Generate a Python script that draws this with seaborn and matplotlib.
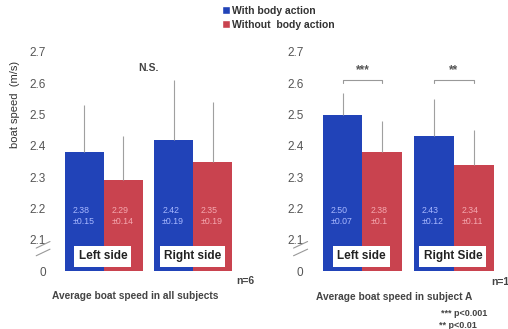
import matplotlib
matplotlib.use("Agg")
import matplotlib.pyplot as plt
from matplotlib.patches import Patch
import seaborn as sns
import pandas as pd

sns.set_theme(style="white")
plt.rcParams['font.family'] = ['Liberation Sans', 'DejaVu Sans']

sides_all = ["Left side", "Right side"]
sides_a = ["Left side", "Right Side"]
conditions = ["With body action", "Without  body action"]
means_all = {"With body action": [2.38, 2.42], "Without  body action": [2.29, 2.35]}
sds_all = {"With body action": [0.15, 0.19], "Without  body action": [0.14, 0.19]}
means_a = {"With body action": [2.50, 2.43], "Without  body action": [2.38, 2.34]}
sds_a = {"With body action": [0.07, 0.12], "Without  body action": [0.1, 0.11]}
sds_a_text = {"With body action": ["±0.07", "±0.12"], "Without  body action": ["±0.1", "±0.11"]}
sds_all_text = {"With body action": ["±0.15", "±0.19"], "Without  body action": ["±0.14", "±0.19"]}
yticks = [2.0, 2.1, 2.2, 2.3, 2.4, 2.5, 2.6, 2.7]
yticklabels = ["0", "2.1", "2.2", "2.3", "2.4", "2.5", "2.6", "2.7"]
colors = ["#2143b8", "#c9434f"]
txt_colors = ["#a8b8ff", "#f4a8b0"]

W, H = 508, 329
fig = plt.figure(figsize=(W / 100, H / 100), dpi=100)
ax1 = fig.add_axes([50 / W, 0.176, 197 / W, 0.666])
ax2 = fig.add_axes([307.6 / W, 0.176, 201 / W, 0.666])


def make_df(sides, means):
    rows = []
    for c in conditions:
        for s, v in zip(sides, means[c]):
            rows.append({"side": s, "cond": c, "speed": v})
    return pd.DataFrame(rows)


def draw(ax, sides, means, sds, sdtext):
    df = make_df(sides, means)
    sns.barplot(data=df, x="side", y="speed", hue="cond", order=sides,
                hue_order=conditions, palette=colors, width=0.87,
                errorbar=None, legend=False, ax=ax, linewidth=0, saturation=1)
    bars = [p for p in ax.patches][:4]
    k = 0
    for ci, c in enumerate(conditions):
        for si in range(len(sides)):
            p = bars[k]
            k += 1
            xc = p.get_x() + p.get_width() / 2
            top = means[c][si]
            ax.plot([xc, xc], [top, top + sds[c][si]], color="#a0a0a0", lw=0.8,
                    solid_capstyle="butt", zorder=1)
            ax.text(p.get_x() + p.get_width() * 0.2, 2.176, f"{top:.2f}\n{sdtext[c][si]}",
                    fontsize=6.3, color=txt_colors[ci], ha="left", va="center",
                    linespacing=1.25)
    for si, s in enumerate(sides):
        ax.text(si - 0.01, 2.047, s, ha="center", va="center", fontsize=8.5,
                fontweight="bold", color="#222222",
                bbox=dict(boxstyle="square,pad=0.35", fc="white", ec="none"))
    ax.set_ylim(2.0, 2.7)
    ax.set_xlim(-0.6, 1.6)
    ax.set_yticks(yticks)
    ax.set_yticklabels(yticklabels)
    ax.tick_params(axis="y", length=0, pad=3, labelsize=8.5, labelcolor="#555555")
    ax.set_xticks([])
    ax.set_xlabel("")
    ax.set_ylabel("")
    for sp in ax.spines.values():
        sp.set_visible(False)
    # axis break marks
    for dy in (0.0, 0.035):
        ax.plot([-0.07, 0.0], [0.07 + dy, 0.1 + dy], transform=ax.transAxes,
                color="#999999", lw=0.8, clip_on=False)


draw(ax1, sides_all, means_all, sds_all, sds_all_text)
draw(ax2, sides_a, means_a, sds_a, sds_a_text)

# significance
ax1.text(0.5, 2.648, "N.S.", ha="center", va="center", fontsize=7.5,
         fontweight="bold", color="#444444")
for si, star in enumerate(["***", "**"]):
    x0, x1 = si - 0.2175, si + 0.2175
    y = 2.61
    ax2.plot([x0, x0, x1, x1], [y - 0.01, y, y, y - 0.01], color="#999999", lw=0.8)
    ax2.text(si, 2.642, star, ha="center", va="center", fontsize=8.5,
             fontweight="bold", color="#555555")

# legend
handles = [Patch(facecolor=colors[0]), Patch(facecolor=colors[1])]
leg = fig.legend(handles, ["With body action", "Without  body action"],
                 loc="upper left", bbox_to_anchor=(222 / W, 1 - 6 / H),
                 frameon=False, fontsize=7.5, handlelength=0.8, handleheight=0.8,
                 handletextpad=0.2, labelspacing=0.35, borderpad=0, borderaxespad=0)
for t in leg.get_texts():
    t.set_fontweight("bold")
    t.set_color("#333333")

fig.text(15 / W, 1 - 104 / H, "boat speed  (m/s)", rotation=90, ha="center",
         va="center", fontsize=8, color="#333333")
fig.text(135 / W, 1 - 296 / H, "Average boat speed in all subjects", ha="center",
         va="center", fontsize=7.3, fontweight="bold", color="#444444")
fig.text(394 / W, 1 - 297 / H, "Average boat speed in subject A", ha="center",
         va="center", fontsize=7.3, fontweight="bold", color="#444444")
fig.text(236 / W, 1 - 281 / H, "n=6", ha="left", va="center", fontsize=7.5,
         fontweight="bold", color="#444444")
fig.text(491 / W, 1 - 282 / H, "n=1", ha="left", va="center", fontsize=7.5,
         fontweight="bold", color="#444444")
fig.text(487 / W, 1 - 314 / H, "*** p<0.001", ha="right", va="center", fontsize=6.5,
         fontweight="bold", color="#444444")
fig.text(477 / W, 1 - 326 / H, "** p<0.01", ha="right", va="center", fontsize=6.5,
         fontweight="bold", color="#444444")

fig.savefig("out.png", dpi=100, facecolor="white")
